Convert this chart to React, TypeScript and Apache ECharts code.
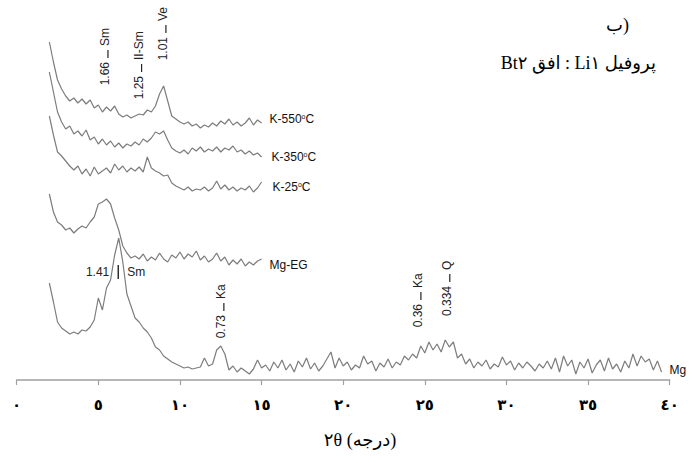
import React, { useEffect, useRef } from "react";
import * as echarts from "echarts";

const START_ANGLE = 2;
const ANGLE_STEP = 0.25;

const xTickLabels = ["٠", "٥", "١٠", "١٥", "٢٠", "٢٥", "٣٠", "٣٥", "٤٠"];

const traceNames = ["K-550", "K-350", "K-25", "Mg-EG", "Mg"];

// intensities (stacked, arbitrary units above the axis)
const k550Values = [338, 318, 300, 291, 284, 279, 282, 277, 281, 276, 280, 272, 275, 268, 273, 269, 274, 266, 263, 265, 262, 264, 266, 265, 270, 268, 274, 286, 294, 279, 264, 261, 258, 256, 258, 254, 256, 252, 255, 253, 257, 254, 259, 256, 261, 255, 258, 254, 257, 262, 255, 260, 257];
const k350Values = [308, 288, 268, 258, 251, 254, 246, 249, 244, 250, 240, 243, 236, 241, 235, 239, 233, 237, 232, 236, 234, 238, 235, 241, 238, 242, 248, 246, 249, 240, 232, 229, 227, 230, 226, 232, 229, 233, 228, 231, 229, 233, 228, 232, 230, 234, 228, 230, 226, 229, 225, 227, 223];
const k25Values = [264, 245, 228, 224, 219, 214, 210, 214, 206, 211, 204, 213, 206, 209, 212, 207, 216, 210, 214, 208, 212, 209, 213, 208, 223, 212, 209, 207, 204, 205, 197, 194, 192, 190, 193, 189, 191, 190, 193, 189, 192, 199, 191, 195, 190, 193, 189, 192, 190, 194, 188, 192, 198];
const mgEgValues = [186, 168, 158, 155, 150, 152, 147, 151, 154, 152, 158, 163, 176, 178, 181, 176, 162, 150, 134, 127, 122, 124, 121, 126, 119, 123, 120, 127, 121, 118, 125, 122, 128, 121, 126, 123, 129, 120, 124, 118, 121, 127, 119, 123, 115, 120, 116, 121, 114, 118, 115, 119, 121];
const mgValues = [
  97, 78, 58, 52, 49, 46, 48, 46, 50, 49, 53, 60, 82, 70, 92, 100, 125, 142, 118, 86,
  74, 62, 58, 52, 48, 42, 33, 30, 24, 21, 18, 16, 14, 12, 13, 11, 12, 13, 22, 14,
  16, 30, 34, 26, 10, 14, 8, 12, 9, 6, 11, 20, 12,
  15, 9, 18, 12, 20, 10, 16, 8, 19, 13, 22, 11, 17, 9, 14, 21, 28, 12, 22, 14,
  18, 10, 15, 12, 24, 16, 19, 9, 17, 13, 21, 12, 18, 15, 24, 20, 26, 22, 34, 27,
  38, 30, 36, 28, 40, 33, 38, 22, 26, 16, 21, 12, 18, 14, 20, 11, 16, 13, 23, 15,
  19, 10, 17, 12, 18, 14, 9, 16, 12, 19, 11, 22, 8, 24, 14, 20, 6, 18, 12, 21,
  7, 15, 20, 9, 22, 11, 16, 8, 19, 12, 26, 14, 24, 18, 21, 10, 19, 8,
];

// peak annotations: d-spacing (nm) and mineral
const peakSpacings = ["1.66", "1.25", "1.01", "1.41", "0.73", "0.36", "0.334"];
const peakMinerals = ["Sm", "II-Sm", "Ve", "Sm", "Ka", "Ka", "Q"];
// annotation anchor (2θ, height) and orientation
const peakAnchors: [number, number, boolean][] = [
  [5.59, 326, true],
  [7.65, 312, true],
  [9.14, 351, true],
  [6.22, 108, false],
  [12.69, 73, true],
  [24.76, 84, true],
  [26.53, 102, true],
];

const labelOffsets: [number, number][] = [
  [0, -4],
  [2, 0],
  [3, 5],
  [0, 6],
  [0, -2],
];

const toPairs = (vals: number[]) => vals.map((v, i) => [START_ANGLE + i * ANGLE_STEP, v]);

export default function App() {
  const ref = useRef<HTMLDivElement>(null);
  useEffect(() => {
    if (!ref.current) return;
    const chart = echarts.init(ref.current, null, { renderer: "svg" });
    const all = [k550Values, k350Values, k25Values, mgEgValues, mgValues];
    const sansFont = '"Liberation Sans", Arial, sans-serif';
    const series = all.map((vals, i) => ({
      type: "line",
      name: traceNames[i],
      data: toPairs(vals),
      showSymbol: false,
      symbol: "none",
      lineStyle: { color: "#7d7d7d", width: 1.2 },
      endLabel: {
        show: true,
        distance: 8,
        offset: labelOffsets[i],
        formatter: () => (i < 3 ? `${traceNames[i]}{sup|o}C` : traceNames[i]),
        color: "#111",
        fontSize: 12,
        fontFamily: sansFont,
        rich: {
          sup: { fontSize: 7, verticalAlign: "top", color: "#111", fontFamily: sansFont, padding: [0, 0, 4, 0] },
        },
      },
      silent: true,
    }));
    chart.setOption({
      animation: false,
      grid: { left: 16.7, right: 23.3, top: 20, bottom: 83, containLabel: false },
      xAxis: {
        type: "value",
        min: 0,
        max: 40,
        interval: 5,
        axisLine: { show: true, lineStyle: { color: "#a0a0a0", width: 1.5 } },
        axisTick: { show: true, inside: false, length: 5, lineStyle: { color: "#a0a0a0", width: 1.2 } },
        splitLine: { show: false },
        axisLabel: {
          margin: 17,
          fontSize: 15,
          fontWeight: "bold",
          color: "#000",
          fontFamily: '"DejaVu Sans", sans-serif',
          formatter: (v: number) => xTickLabels[Math.round(v / 5)] ?? "",
        },
      },
      yAxis: { type: "value", min: 0, max: 360, show: false },
      series,
    });

    const g: any[] = [];
    peakAnchors.forEach(([theta, level, vertical], i) => {
      const [px, py] = chart.convertToPixel({ gridIndex: 0 }, [theta, level]) as number[];
      const txt = {
        font: `12px ${sansFont}`,
        fill: "#222",
      };
      if (vertical) {
        g.push({ type: "line", shape: { x1: px, y1: py - 4, x2: px, y2: py + 4 }, style: { stroke: "#222", lineWidth: 1.2 } });
        g.push({
          type: "text", x: px - 3, y: py + 8, rotation: Math.PI / 2,
          style: { ...txt, text: peakSpacings[i], align: "right", verticalAlign: "middle", textAlign: "right", textVerticalAlign: "middle" },
        });
        g.push({
          type: "text", x: px - 3, y: py - 8, rotation: Math.PI / 2,
          style: { ...txt, text: peakMinerals[i], align: "left", verticalAlign: "middle", textAlign: "left", textVerticalAlign: "middle" },
        });
      } else {
        g.push({ type: "line", shape: { x1: px, y1: py - 7, x2: px, y2: py + 7 }, style: { stroke: "#222", lineWidth: 1.4 } });
        g.push({
          type: "text", x: px - 9, y: py,
          style: { ...txt, text: peakSpacings[i], align: "right", verticalAlign: "middle", textAlign: "right", textVerticalAlign: "middle" },
        });
        g.push({
          type: "text", x: px + 9, y: py,
          style: { ...txt, text: peakMinerals[i], align: "left", verticalAlign: "middle", textAlign: "left", textVerticalAlign: "middle" },
        });
      }
    });
    const serif = '"Liberation Serif", "DejaVu Sans", serif';
    g.push({
      type: "text", x: 629, y: 25,
      style: { text: "ب)", font: `18px ${serif}`, fill: "#000", align: "right", verticalAlign: "middle", textAlign: "right", textVerticalAlign: "middle" },
    });
    g.push({
      type: "text", x: 656, y: 63,
      style: { text: "\u202Bپروفیل Li۱ : افق Bt۲\u202C", font: `18px ${serif}`, fill: "#000", align: "right", verticalAlign: "middle", textAlign: "right", textVerticalAlign: "middle" },
    });
    g.push({
      type: "text", x: 360, y: 440,
      style: { text: "۲θ (درجه)", font: `18px ${serif}`, fill: "#000", align: "center", verticalAlign: "middle", textAlign: "center", textVerticalAlign: "middle" },
    });
    chart.setOption({ graphic: { elements: g } });

    return () => chart.dispose();
  }, []);
  return <div ref={ref} style={{ position: "absolute", left: 0, top: 0, width: 693, height: 463 }} />;
}
